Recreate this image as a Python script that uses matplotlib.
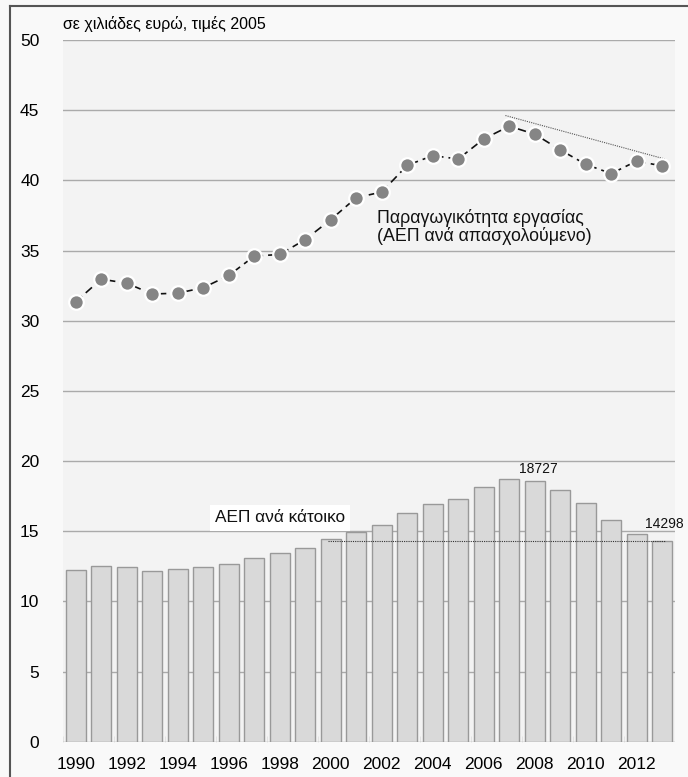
import matplotlib.pyplot as plt
from matplotlib.lines import Line2D

plt.rcParams['font.family'] = ['Liberation Sans', 'DejaVu Sans']

# Δεδομένα
years = list(range(1990, 2014))
gdp_per_capita = [12.26, 12.52, 12.47, 12.17, 12.31, 12.47, 12.69, 13.07, 13.43, 13.83,
                  14.45, 14.95, 15.42, 16.30, 16.97, 17.28, 18.15, 18.727, 18.60, 17.94,
                  17.04, 15.80, 14.80, 14.298]
productivity = [31.35, 32.96, 32.67, 31.90, 31.96, 32.35, 33.22, 34.60, 34.72, 35.78,
                37.20, 38.76, 39.17, 41.07, 41.76, 41.52, 42.95, 43.86, 43.29, 42.17,
                41.14, 40.48, 41.38, 41.02]
trend_years = [2006.85, 2013.1]
trend_values = [44.62, 41.52]
ref_years = [1999.9, 2013.1]
ref_values = [14.298, 14.298]
xtick_years = list(range(1990, 2013, 2))
yticks = [0, 5, 10, 15, 20, 25, 30, 35, 40, 45, 50]

fig = plt.figure(figsize=(6.88, 7.77), dpi=100, facecolor='#f9f9f9')
ax = fig.add_axes([63 / 688, 1 - 741.7 / 777, 612 / 688, 701.7 / 777])
ax.set_facecolor('#f3f3f3')

# Ράβδοι: ΑΕΠ ανά κάτοικο
ax.bar(years, gdp_per_capita, width=0.78, color='#d9d9d9', edgecolor='#999999',
       linewidth=1.0, zorder=2)
ax.plot(ref_years, ref_values, linestyle=(0, (1, 1)), color='#333333', linewidth=0.8, zorder=3)

# Γραμμή: παραγωγικότητα
ax.plot(years, productivity, linestyle=(0, (5, 3)), color='#111111', linewidth=1.2,
        marker='o', markersize=10.5, markerfacecolor='#858585', markeredgecolor='white',
        markeredgewidth=1.6, zorder=4)
ax.plot(trend_years, trend_values, linestyle=(0, (1, 1)), color='#555555', linewidth=0.8, zorder=3)

# Κείμενα
ax.text(2001.8, 36.7, 'Παραγωγικότητα εργασίας\n(ΑΕΠ ανά απασχολούμενο)',
        fontsize=12.8, color='#111111', va='center', ha='left', linespacing=1.0, zorder=5)
ax.text(1995.45, 15.95, 'ΑΕΠ ανά κάτοικο', fontsize=12.4, color='#111111', va='center',
        ha='left', zorder=5,
        bbox=dict(facecolor='white', edgecolor='none', boxstyle='square,pad=0.3'))
ax.text(2008.15, 18.95, '18727', fontsize=10, ha='center', va='bottom', color='#111111')
ax.text(2013.1, 15.0, '14298', fontsize=10, ha='center', va='bottom', color='#111111')
ax.annotate('σε χιλιάδες ευρώ, τιμές 2005', xy=(0, 1), xycoords='axes fraction',
            xytext=(0, 6), textcoords='offset points', fontsize=11.5, ha='left', va='bottom')

# Άξονες
ax.set_xlim(1989.5, 2013.5)
ax.set_ylim(0, 50)
ax.set_yticks(yticks)
ax.set_xticks(xtick_years)
ax.set_xticks([y - 0.5 for y in xtick_years], minor=True)
ax.tick_params(axis='y', length=0, pad=17, labelsize=12.5)
ax.tick_params(axis='x', which='major', length=0, pad=11, labelsize=12.5)
ax.tick_params(axis='x', which='minor', length=4, color='#e0e0e0', direction='in')
ax.grid(axis='y', color='#aaaaaa', linewidth=1.0, zorder=0)
ax.set_axisbelow(True)
for s in ax.spines.values():
    s.set_visible(False)

# Πλαίσιο
fig.add_artist(Line2D([10 / 688, 1], [1 - 5.5 / 777, 1 - 5.5 / 777], color='#555555', linewidth=1.5))
fig.add_artist(Line2D([10 / 688, 10 / 688], [0, 1 - 5.5 / 777], color='#555555', linewidth=1.5))

fig.savefig('out.png', dpi=100, facecolor=fig.get_facecolor())
